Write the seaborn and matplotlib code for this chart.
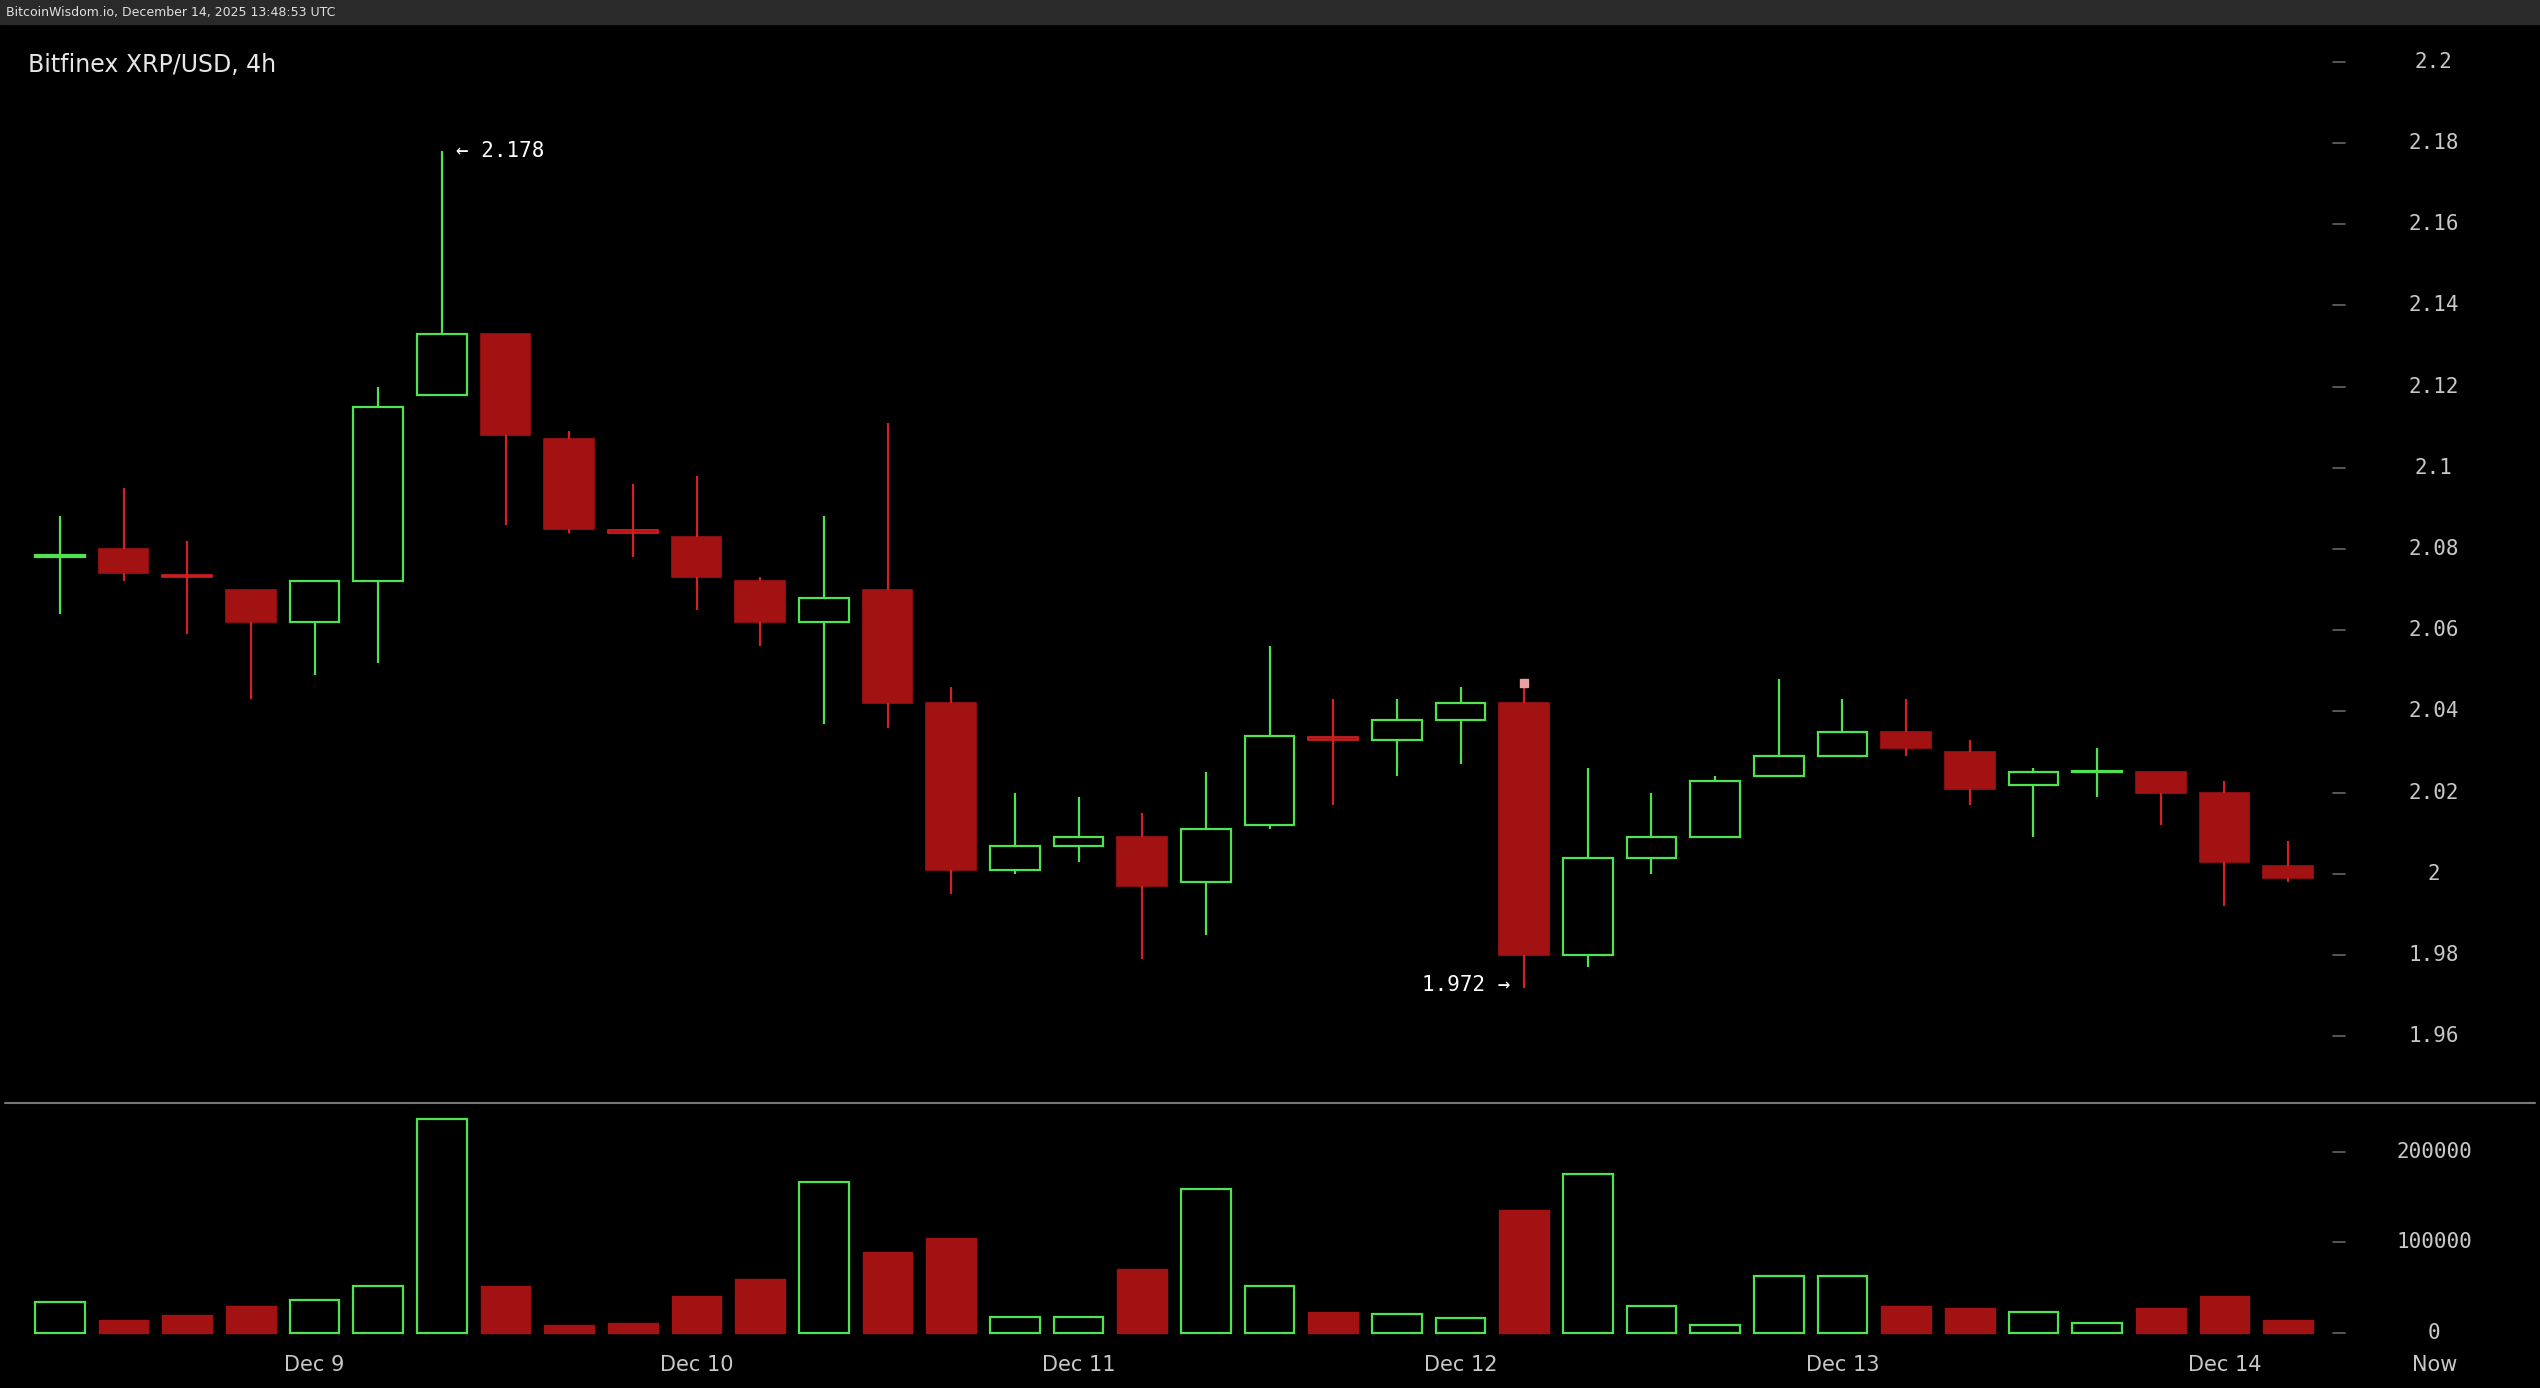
import matplotlib
matplotlib.use("Agg")
import matplotlib.pyplot as plt
import matplotlib.transforms as mtransforms
import numpy as np
import seaborn as sns

sns.set_theme(style="dark")
plt.rcParams["font.family"] = ["DejaVu Sans Mono", "DejaVu Sans"]

# 4h candles, Dec 8 evening .. Dec 14
opens = [2.078, 2.080, 2.073, 2.070, 2.062, 2.072, 2.118, 2.133, 2.107, 2.084, 2.083, 2.072,
         2.062, 2.070, 2.042, 2.001, 2.007, 2.009, 1.998, 2.012, 2.033, 2.033, 2.038, 2.042,
         1.980, 2.004, 2.009, 2.024, 2.029, 2.035, 2.030, 2.022, 2.025, 2.025, 2.020, 2.002]
closes = [2.078, 2.074, 2.073, 2.062, 2.072, 2.115, 2.133, 2.108, 2.085, 2.084, 2.073, 2.062,
          2.068, 2.042, 2.001, 2.007, 2.009, 1.997, 2.011, 2.034, 2.033, 2.038, 2.042, 1.980,
          2.004, 2.009, 2.023, 2.029, 2.035, 2.031, 2.021, 2.025, 2.025, 2.020, 2.003, 1.999]
highs = [2.088, 2.095, 2.082, 2.070, 2.072, 2.120, 2.178, 2.133, 2.109, 2.096, 2.098, 2.073,
         2.088, 2.111, 2.046, 2.020, 2.019, 2.015, 2.025, 2.056, 2.043, 2.043, 2.046, 2.047,
         2.026, 2.020, 2.024, 2.048, 2.043, 2.043, 2.033, 2.026, 2.031, 2.025, 2.023, 2.008]
lows = [2.064, 2.072, 2.059, 2.043, 2.049, 2.052, 2.118, 2.086, 2.084, 2.078, 2.065, 2.056,
        2.037, 2.036, 1.995, 2.000, 2.003, 1.979, 1.985, 2.011, 2.017, 2.024, 2.027, 1.972,
        1.977, 2.000, 2.009, 2.024, 2.029, 2.029, 2.017, 2.009, 2.019, 2.012, 1.992, 1.998]
up = [True, False, False, False, True, True, True, False, False, False, False, False,
      True, False, False, True, True, False, True, True, False, True, True, False,
      True, True, True, True, True, False, False, True, True, False, False, False]
volumes = [34000, 14000, 20000, 30000, 36000, 52000, 236000, 52000, 9000, 11000, 41000, 59000,
           166000, 89000, 105000, 18000, 18000, 70000, 159000, 52000, 23000, 21000, 16000, 136000,
           175000, 30000, 9000, 63000, 63000, 30000, 28000, 23000, 11000, 28000, 41000, 14000]
price_ticks = [1.96, 1.98, 2.0, 2.02, 2.04, 2.06, 2.08, 2.1, 2.12, 2.14, 2.16, 2.18, 2.2]
price_labels = ["1.96", "1.98", "2", "2.02", "2.04", "2.06", "2.08", "2.1", "2.12", "2.14", "2.16", "2.18", "2.2"]
vol_ticks = [0, 100000, 200000]
day_pos = [4, 10, 16, 22, 28, 34, 37.3]
day_labels = ["Dec 9", "Dec 10", "Dec 11", "Dec 12", "Dec 13", "Dec 14", "Now"]

GREEN = "#4fe34f"
RED = "#a31212"
WRED = "#d42020"

W, H = 1568, 857
fig = plt.figure(figsize=(25.4, 13.88), dpi=100, facecolor="black")
# grey header strip
fig.add_artist(plt.Rectangle((0, 1 - 15 / H), 1, 15 / H, transform=fig.transFigure,
                             color="#2a2a2a", zorder=0))
left, right = 3 / W, 1565 / W
ax = fig.add_axes([left, 1 - 681 / H, right - left, (681 - 16) / H], facecolor="black")
axv = fig.add_axes([left, 1 - 833 / H, right - left, (833 - 681) / H], facecolor="black", sharex=ax)

x = np.arange(len(opens))
bw = 0.78
for i in x:
    o, c, h, l = opens[i], closes[i], highs[i], lows[i]
    bot, top = min(o, c), max(o, c)
    if up[i]:
        ax.vlines(i, l, bot, color=GREEN, lw=1.6)
        ax.vlines(i, top, h, color=GREEN, lw=1.6)
        ax.bar(i, max(top - bot, 0.0004), bottom=bot, width=bw, facecolor="none", edgecolor=GREEN, lw=1.6)
        axv.bar(i, volumes[i], width=bw, facecolor="none", edgecolor=GREEN, lw=1.6)
    else:
        ax.vlines(i, l, bot, color=WRED, lw=1.6)
        ax.vlines(i, top, h, color=WRED, lw=1.6)
        ax.bar(i, max(top - bot, 0.0006), bottom=bot, width=bw, color=RED,
               edgecolor=RED if top - bot > 0.001 else WRED, lw=1.2)
        axv.bar(i, volumes[i], width=bw, color=RED, edgecolor=RED)

ax.set_ylim(2.2 - 643 / 2508, 2.2 + 22 / 2508)
ax.set_xlim(-0.865, 38.88)
axv.set_ylim(-17857, 253571)

for a in (ax, axv):
    a.set_yticks([])
    a.grid(False)
    for s in a.spines.values():
        s.set_visible(False)
ax.tick_params(axis="x", bottom=False, labelbottom=False)

tr = mtransforms.blended_transform_factory(ax.transAxes, ax.transData)
for t, lab in zip(price_ticks, price_labels):
    ax.plot([0.920, 0.925], [t, t], transform=tr, color="#666666", lw=1.2)
    ax.text(0.960, t, lab, transform=tr, color="#c8c8c8", fontsize=15, ha="center", va="center")
trv = mtransforms.blended_transform_factory(axv.transAxes, axv.transData)
for t in vol_ticks:
    axv.plot([0.920, 0.925], [t, t], transform=trv, color="#666666", lw=1.2)
    axv.text(0.960, t, f"{t}", transform=trv, color="#c8c8c8", fontsize=15, ha="center", va="center")

axv.set_xticks(day_pos)
axv.set_xticklabels(day_labels, color="#c8c8c8", fontsize=15, family="DejaVu Sans")
axv.tick_params(axis="x", direction="in", length=6, color="#666666", pad=4)

fig.add_artist(plt.Line2D([left, right], [1 - 681 / H] * 2, color="#777777", lw=1.5))

ax.text(0.009, 0.975, "Bitfinex XRP/USD, 4h", transform=ax.transAxes, color="#e6e6e6",
        fontsize=17, ha="left", va="top", family="DejaVu Sans")
ax.annotate("\u2190 2.178", (6, highs[6]), xytext=(10, 0), textcoords="offset points",
            color="white", fontsize=15, va="center", ha="left")
ax.annotate("1.972 \u2192", (23, lows[23]), xytext=(-10, 2), textcoords="offset points",
            color="white", fontsize=15, va="center", ha="right")
ax.plot(23, 2.047, marker="s", color="#e8a0a0", markersize=6)

fig.text(4 / W, 1 - 8 / H, "BitcoinWisdom.io, December 14, 2025 13:48:53 UTC", color="#e0e0e0",
         fontsize=9, ha="left", va="center", family="DejaVu Sans")

fig.savefig("out.png", dpi=100, facecolor=fig.get_facecolor())
